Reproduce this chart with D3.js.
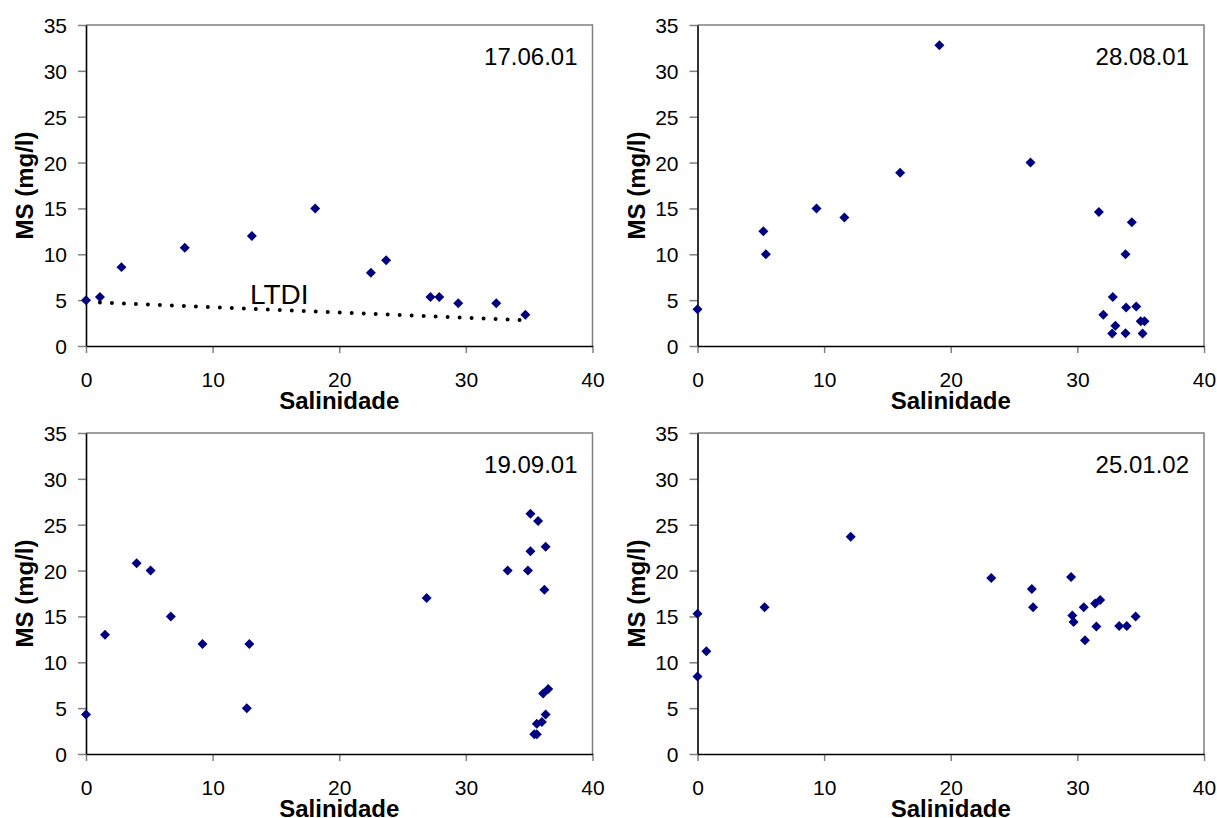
<!DOCTYPE html>
<html>
<head>
<meta charset="utf-8">
<script src="https://cdn.jsdelivr.net/npm/d3@7"></script>
<style>
  html, body { margin: 0; padding: 0; background: #fff; }
  svg { display: block; }
  text { font-family: "Liberation Sans", Arial, Helvetica, sans-serif; fill: #000; }
</style>
</head>
<body>
<svg id="chart" width="1217" height="818"></svg>
<script>
// Suspended matter (MS, mg/l) against salinity, four sampling campaigns
const xTicks = [0, 10, 20, 30, 40];
const yTicks = [0, 5, 10, 15, 20, 25, 30, 35];

// 17.06.01
const sal1 = [0, 1.1, 2.8, 7.8, 13.1, 18.1, 22.5, 23.7, 27.2, 27.9, 29.4, 32.4, 34.7];
const ms1  = [5.0, 5.35, 8.6, 10.7, 12.0, 15.0, 8.0, 9.35, 5.35, 5.35, 4.65, 4.65, 3.4];

// theoretical dilution line (LTDI), 17.06.01
const ltdiSal = [1.1, 34.8];
const ltdiMS  = [4.73, 2.8];

// 28.08.01
const sal2 = [0, 5.2, 5.4, 9.4, 11.6, 16.0, 19.1, 26.3, 31.7, 34.3, 33.8, 32.8, 32.05, 33.85, 34.65, 33.0, 35.0, 35.3, 32.75, 33.8, 35.15];
const ms2  = [4.0, 12.5, 10.0, 15.0, 14.0, 18.9, 32.8, 20.0, 14.6, 13.5, 10.0, 5.35, 3.4, 4.2, 4.3, 2.2, 2.7, 2.7, 1.35, 1.4, 1.35];

// 19.09.01
const sal3 = [0, 1.5, 4.0, 5.1, 6.7, 9.2, 12.9, 12.7, 26.9, 33.3, 34.9, 35.1, 35.7, 35.1, 36.3, 36.2, 36.1, 36.5, 36.3, 36.0, 35.6, 35.4, 35.6];
const ms3  = [4.3, 13.0, 20.8, 20.0, 15.0, 12.0, 12.0, 5.0, 17.0, 20.0, 20.0, 26.2, 25.4, 22.1, 22.6, 17.9, 6.6, 7.1, 4.3, 3.5, 3.3, 2.15, 2.15];

// 25.01.02
const sal4 = [0, 0, 0.7, 5.3, 12.1, 23.2, 26.4, 26.5, 29.5, 29.6, 29.7, 30.5, 30.6, 31.4, 31.8, 31.5, 33.3, 33.9, 34.6];
const ms4  = [15.3, 8.45, 11.2, 16.0, 23.7, 19.2, 18.0, 16.0, 19.3, 15.1, 14.4, 16.0, 12.4, 16.4, 16.8, 13.9, 13.95, 13.95, 15.0];

const dates = ["17.06.01", "28.08.01", "19.09.01", "25.01.02"];
const xTitle = "Salinidade";
const yTitle = "MS (mg/l)";

const panels = [
  { date: dates[0], sal: sal1, ms: ms1, left: 86,    top: 25,  ltdi: true },
  { date: dates[1], sal: sal2, ms: ms2, left: 697.5, top: 25 },
  { date: dates[2], sal: sal3, ms: ms3, left: 86,    top: 433 },
  { date: dates[3], sal: sal4, ms: ms4, left: 697.5, top: 433 }
];
const plotW = 506.5, plotH = 321;

const svg = d3.select("#chart");
svg.append("rect").attr("width", 1217).attr("height", 818).attr("fill", "#fff");

const diamond = d3.symbol().type(d3.symbolSquare).size(50);

panels.forEach(p => {
  const x = d3.scaleLinear().domain([0, 40]).range([0, plotW]);
  const y = d3.scaleLinear().domain([0, 35]).range([plotH, 0]);
  const g = svg.append("g").attr("transform", `translate(${p.left},${p.top})`);

  // top and right frame
  g.append("path")
    .attr("d", `M0,0H${plotW}V${plotH}`)
    .attr("fill", "none").attr("stroke", "#808080").attr("stroke-width", 1.5);

  const yAxis = g.append("g")
    .call(d3.axisLeft(y).tickValues(yTicks).tickSize(8).tickSizeOuter(0).tickPadding(11));
  const xAxis = g.append("g").attr("transform", `translate(0,${plotH})`)
    .call(d3.axisBottom(x).tickValues(xTicks).tickSize(7).tickSizeOuter(0).tickPadding(19));

  [xAxis, yAxis].forEach(a => {
    a.select(".domain").attr("stroke", "#000").attr("stroke-width", 1.6);
    a.selectAll(".tick line").attr("stroke", "#808080").attr("stroke-width", 1.5);
    a.selectAll(".tick text")
      .attr("font-size", 21)
      .attr("font-family", "'Liberation Sans', Arial, sans-serif")
      .attr("fill", "#000");
  });
  yAxis.selectAll(".tick text").attr("dy", "0.36em");
  // keep the axis lines above the tick marks
  xAxis.select(".domain").raise();
  yAxis.select(".domain").raise();

  if (p.ltdi) {
    const line = d3.line().x(d => x(d[0])).y(d => y(d[1]));
    g.append("path")
      .datum(d3.zip(ltdiSal, ltdiMS))
      .attr("d", line)
      .attr("fill", "none")
      .attr("stroke", "#000")
      .attr("stroke-width", 4)
      .attr("stroke-linecap", "round")
      .attr("stroke-dasharray", "0,12");
    g.append("text")
      .attr("x", x(12.95)).attr("y", y(4.55))
      .attr("font-size", 28)
      .text("LTDI");
  }

  g.selectAll("path.pt")
    .data(d3.zip(p.sal, p.ms))
    .join("path")
    .attr("class", "pt")
    .attr("d", diamond)
    .attr("transform", d => `translate(${x(d[0])},${y(d[1])}) rotate(45)`)
    .attr("fill", "#000080");

  g.append("text")
    .attr("x", plotW - 15).attr("y", 40)
    .attr("text-anchor", "end")
    .attr("font-size", 24)
    .text(p.date);

  g.append("text")
    .attr("x", plotW / 2).attr("y", plotH + 63)
    .attr("text-anchor", "middle")
    .attr("font-size", 24).attr("font-weight", "bold")
    .text(xTitle);

  g.append("text")
    .attr("transform", `translate(-53,${plotH / 2}) rotate(-90)`)
    .attr("text-anchor", "middle")
    .attr("font-size", 24).attr("font-weight", "bold")
    .text(yTitle);
});
</script>
</body>
</html>
